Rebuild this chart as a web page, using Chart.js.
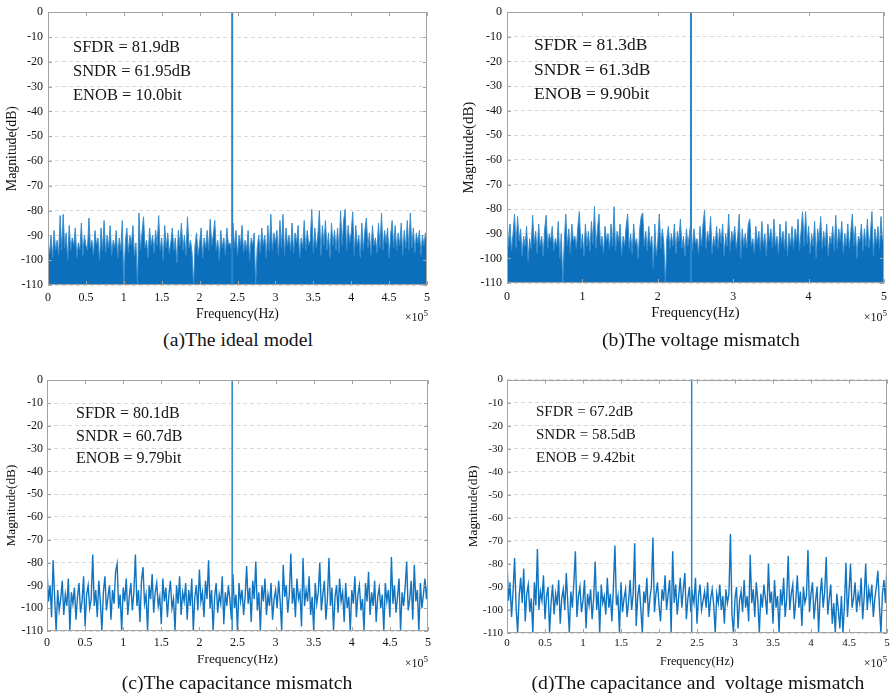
<!DOCTYPE html>
<html>
<head>
<meta charset="utf-8">
<title>FFT spectra of the SAR ADC models</title>
<script src="https://cdn.jsdelivr.net/npm/chart.js"></script>
<style>
    body { margin: 0; width: 894px; height: 697px; background: #fff; position: relative; overflow: hidden;
           font-family: "Liberation Serif", "Times New Roman", serif; color: #141414; }
    canvas { position: absolute; }
    .note { position: absolute; white-space: nowrap; }
    .cap { position: absolute; font-size: 19.7px; white-space: pre; transform: translate(-50%, -50%); line-height: 1; }
    .exp { position: absolute; font-size: 12px; line-height: 16px; white-space: nowrap; }
    .exp sup { font-size: 9px; vertical-align: 5px; line-height: 0; }
</style>
</head>
<body>

<canvas id="chartA" width="436" height="327" style="left:0px;top:0px"></canvas>
<canvas id="chartB" width="447" height="326" style="left:447px;top:0px"></canvas>
<canvas id="chartC" width="436" height="303" style="left:0px;top:369px"></canvas>
<canvas id="chartD" width="447" height="304" style="left:447px;top:369px"></canvas>

<!-- 측정 결과 텍스트 -->
<div class="note" style="left:73px;top:35px;font-size:16.5px;line-height:24px">SFDR = 81.9dB<br>SNDR = 61.95dB<br>ENOB = 10.0bit</div>
<div class="note" style="left:534px;top:32px;font-size:17.5px;line-height:24.5px">SFDR = 81.3dB<br>SNDR = 61.3dB<br>ENOB = 9.90bit</div>
<div class="note" style="left:76px;top:402px;font-size:16px;line-height:22.5px">SFDR = 80.1dB<br>SNDR = 60.7dB<br>ENOB = 9.79bit</div>
<div class="note" style="left:536px;top:400px;font-size:15px;line-height:23px">SFDR = 67.2dB<br>SNDR = 58.5dB<br>ENOB = 9.42bit</div>

<div class="exp" style="right:466px;top:309px">×10<sup>5</sup></div>
<div class="exp" style="right:7px;top:309px">×10<sup>5</sup></div>
<div class="exp" style="right:466px;top:655px">×10<sup>5</sup></div>
<div class="exp" style="right:7px;top:655px">×10<sup>5</sup></div>

<div class="cap" style="left:238px;top:340px">(a)The ideal model</div>
<div class="cap" style="left:701px;top:340px">(b)The voltage mismatch</div>
<div class="cap" style="left:237px;top:683px">(c)The capacitance mismatch</div>
<div class="cap" style="left:698px;top:683px">(d)The capacitance and  voltage mismatch</div>

<script>
    // 주파수 빈 간격 (0 ~ 5x10^5 Hz, 251 bins)
    const freqBinHz = 2000;
    const floorDb = -110;

    // 입력 신호 톤 (각 그래프)
    const toneFreqHz = [2.43e5, 2.44e5, 2.43e5, 2.43e5];
    const toneDb = [0, 0, 0, 0];

    // (a) ideal model
    const ampIdeal = [
        -94, -97, -90, -99, -88, -96, -92, -98, -82, -96,
        -81.5, -95, -89, -100, -86, -96, -91, -94, -87, -99,
        -93, -96, -85, -98, -90, -94, -96, -83, -95, -92,
        -98, -88, -94, -91, -100, -87, -96, -84, -97, -90,
        -95, -86, -98, -92, -95, -88, -99, -91, -96, -84,
        -110, -93, -87, -97, -90, -94, -86, -98, -93, -110,
        -81, -96, -89, -82.5, -95, -92, -99, -87, -94, -90,
        -97, -88, -94, -82, -96, -91, -100, -86, -95, -89,
        -97, -93, -87, -96, -91, -101, -88, -94, -85, -96,
        -90, -98, -82.5, -95, -92, -97, -110, -94, -89, -98,
        -93, -87, -99, -91, -95, -88, -96, -83.5, -94, -90,
        -84, -96, -92, -100, -88, -95, -91, -98, -87, -94,
        -93, -96, -85, -95, -88, -98, -90, -94, -86, -97,
        -92, -96, -88, -100, -91, -94, -89, -110, -95, -90,
        -97, -87, -94, -90, -99, -86, -96, -81.5, -96, -89,
        -93, -88, -98, -84, -95, -81.5, -98, -87, -94, -90,
        -96, -85, -97, -89, -93, -86, -99, -91, -95, -84,
        -96, -88, -94, -92, -79.5, -97, -87, -95, -90, -80,
        -98, -86, -94, -84, -96, -89, -99, -85, -94, -88,
        -96, -87, -97, -80, -94, -84, -79.5, -96, -86, -93,
        -89, -80.5, -98, -86, -94, -90, -99, -85, -96, -88,
        -83, -95, -89, -98, -86, -94, -91, -97, -85, -95,
        -81, -96, -88, -93, -87, -99, -90, -84, -95, -86,
        -96, -89, -94, -85, -98, -88, -95, -84, -96, -81,
        -95, -87, -97, -89, -93, -88, -98, -90, -94, -89,
        -92
    ];

    // (b) voltage mismatch
    const ampVoltage = [
        -82.5, -95, -86, -97, -90, -82, -96, -83, -93, -88,
        -99, -91, -95, -87, -101, -92, -96, -82.5, -94, -89,
        -98, -86, -95, -91, -99, -88, -82.5, -96, -90, -93,
        -87, -97, -92, -95, -85, -100, -90, -110, -93, -82,
        -95, -88, -98, -86, -93, -91, -96, -87, -81, -96,
        -90, -99, -86, -95, -89, -97, -85, -94, -79, -96,
        -88, -82, -95, -91, -98, -87, -93, -90, -96, -86,
        -95, -79, -97, -89, -93, -86, -99, -91, -95, -87,
        -82, -96, -90, -98, -86, -94, -92, -100, -88, -83,
        -81.5, -95, -89, -97, -87, -95, -91, -104, -86, -99,
        -93, -82, -96, -88, -94, -110, -92, -87, -96, -90,
        -95, -86, -98, -89, -93, -84, -96, -91, -99, -88,
        -95, -90, -85, -97, -88, -94, -92, -98, -87, -95,
        -86, -80.5, -96, -89, -93, -83, -98, -91, -95, -87,
        -96, -88, -94, -86, -99, -90, -95, -82, -97, -89,
        -93, -87, -96, -91, -82, -100, -88, -95, -90, -96,
        -86, -84, -95, -92, -98, -87, -94, -89, -97, -85,
        -95, -90, -99, -86, -93, -88, -96, -84, -95, -91,
        -98, -86, -94, -89, -96, -85, -99, -90, -95, -87,
        -96, -88, -93, -84, -97, -89, -81, -95, -81, -94,
        -87, -98, -90, -95, -85, -100, -88, -93, -83, -96,
        -89, -95, -86, -99, -91, -94, -87, -97, -82.5, -96,
        -88, -93, -85, -98, -90, -95, -86, -96, -89, -82,
        -95, -87, -100, -91, -93, -86, -97, -88, -95, -84,
        -96, -90, -81, -99, -88, -94, -87, -96, -83, -93,
        -91
    ];

    // (c) capacitance mismatch
    const ampCap = [
        -83, -97, -90, -104, -79, -95, -110, -92, -101, -96,
        -88, -103, -94, -99, -87, -110, -93, -98, -91, -105,
        -95, -89, -102, -97, -86, -108, -94, -90, -100, -96,
        -76.5, -99, -92, -104, -88, -97, -110, -93, -86, -101,
        -95, -90, -105, -92, -98, -84, -80.5, -100, -94, -110,
        -91, -97, -87, -103, -95, -89, -101, -93, -76.5, -99,
        -92, -106, -88, -82, -98, -94, -110, -90, -96, -85,
        -102, -93, -89, -99, -95, -107, -87, -97, -91, -104,
        -94, -88, -100, -96, -110, -90, -98, -86, -103, -93,
        -97, -89, -105, -92, -99, -87, -110, -95, -90, -101,
        -83, -97, -93, -104, -88, -96, -79, -100, -92, -110,
        -95, -89, -102, -94, -98, -86, -107, -93, -99, -90,
        -96, -105, -85, -100, -94, -110, -89, -97, -92, -103,
        -95, -81.5, -98, -91, -106, -88, -96, -79.5, -101, -93,
        -110, -90, -97, -87, -103, -94, -99, -89, -105, -96,
        -92, -100, -88, -97, -110, -81, -95, -90, -102, -94,
        -76, -98, -91, -104, -87, -96, -93, -108, -78, -99,
        -92, -97, -86, -103, -95, -110, -89, -98, -93, -80,
        -101, -94, -88, -105, -96, -78, -99, -91, -110, -95,
        -90, -102, -87, -97, -93, -106, -89, -100, -95, -110,
        -92, -98, -86, -104, -94, -90, -101, -96, -110, -89,
        -97, -84, -103, -93, -99, -88, -106, -95, -91, -100,
        -94, -110, -89, -97, -92, -104, -77.5, -98, -90, -102,
        -95, -87, -110, -93, -99, -91, -79.5, -101, -96, -88,
        -105, -81, -97, -92, -110, -89, -100, -94, -87, -96,
        -88
    ];

    // (d) capacitance and voltage mismatch
    const ampCapVolt = [
        -79, -96, -88, -103, -92, -77.5, -99, -110, -94, -86,
        -97, -82, -105, -93, -89, -101, -95, -110, -88, -98,
        -73.5, -100, -92, -96, -85, -104, -94, -90, -110, -97,
        -89, -102, -93, -98, -87, -106, -95, -91, -100, -84,
        -97, -110, -92, -99, -88, -74.5, -103, -94, -90, -101,
        -96, -87, -108, -93, -98, -91, -104, -95, -79, -100,
        -92, -110, -89, -97, -94, -102, -86, -99, -93, -105,
        -90, -72, -98, -94, -110, -88, -101, -95, -91, -103,
        -96, -87, -100, -93, -71, -107, -94, -89, -99, -110,
        -92, -97, -86, -103, -95, -90, -68.5, -101, -93, -88,
        -98, -105, -91, -96, -85, -100, -93, -87, -110, -74.5,
        -97, -89, -102, -94, -86, -99, -91, -84, -104, -95,
        -90, -101, -93, -97, -86, -106, -94, -89, -100, -96,
        -92, -99, -88, -103, -95, -91, -98, -110, -93, -97,
        -89, -100, -94, -106, -91, -97, -93, -67, -102, -110,
        -95, -90, -108, -96, -92, -101, -87, -99, -94, -105,
        -76, -97, -91, -103, -88, -96, -110, -93, -99, -89,
        -95, -102, -80, -97, -92, -106, -87, -99, -94, -110,
        -91, -98, -86, -103, -95, -76.5, -100, -93, -89, -104,
        -96, -85, -99, -92, -107, -90, -97, -94, -74, -101,
        -93, -88, -104, -96, -90, -110, -94, -86, -99, -92,
        -77, -102, -95, -89, -106, -97, -110, -93, -100, -108,
        -94, -110, -98, -79.5, -103, -92, -80, -99, -95, -88,
        -101, -93, -97, -86, -104, -94, -80, -100, -91, -96,
        -89, -103, -95, -90, -83, -98, -110, -93, -87, -97,
        -80
    ];

    const serif = '"Liberation Serif", "Times New Roman", serif';
    const ink = '#111';
    const boxColor = '#a3a3a3';
    const blue = '#0b6fbc';

    // 박스 테두리 + 안쪽 눈금
    const framePlugin = {
        id: 'frame',
        afterDatasetsDraw(chart) {
            const { ctx, chartArea: a, scales: { x, y } } = chart;
            ctx.save();
            ctx.strokeStyle = boxColor;
            ctx.lineWidth = 1;
            ctx.beginPath();
            x.ticks.forEach(t => {
                const px = Math.round(x.getPixelForValue(t.value)) + 0.5;
                ctx.moveTo(px, a.bottom); ctx.lineTo(px, a.bottom - 4);
                ctx.moveTo(px, a.top); ctx.lineTo(px, a.top + 4);
            });
            y.ticks.forEach(t => {
                const py = Math.round(y.getPixelForValue(t.value)) + 0.5;
                ctx.moveTo(a.left, py); ctx.lineTo(a.left + 4, py);
                ctx.moveTo(a.right, py); ctx.lineTo(a.right - 4, py);
            });
            ctx.stroke();
            ctx.strokeRect(Math.round(a.left) + 0.5, Math.round(a.top) + 0.5,
                Math.round(a.width) - 1, Math.round(a.height) - 1);
            ctx.restore();
        }
    };

    function spectrum(id, amp, k, cfg) {
        const noise = amp.map((v, i) => ({ x: i * freqBinHz, y: v }));
        const tone = [{ x: toneFreqHz[k], y: floorDb }, { x: toneFreqHz[k], y: toneDb[k] }];

        return new Chart(document.getElementById(id), {
            type: 'line',
            data: {
                datasets: [
                    {
                        label: 'tone',
                        data: tone,
                        borderColor: '#2a86c8',
                        borderWidth: cfg.filled ? 2 : 1.5,
                        pointRadius: 0,
                        fill: false
                    },
                    {
                        label: 'spectrum',
                        data: noise,
                        borderColor: cfg.filled ? '#3a8dcc' : '#1174c0',
                        backgroundColor: blue,
                        borderWidth: cfg.filled ? 1 : 1.4,
                        tension: 0,
                        pointRadius: 0,
                        fill: cfg.filled ? 'start' : false
                    }
                ]
            },
            options: {
                responsive: false,
                animation: false,
                devicePixelRatio: 1,
                layout: { padding: { top: cfg.padTop, right: cfg.padRight, left: 0, bottom: 0 } },
                plugins: { legend: { display: false }, tooltip: { enabled: false } },
                scales: {
                    x: {
                        type: 'linear',
                        min: 0,
                        max: 5e5,
                        grid: { display: false, drawTicks: false },
                        border: { display: false },
                        ticks: {
                            stepSize: cfg.xStep,
                            autoSkip: false,
                            maxRotation: 0,
                            padding: cfg.xPad,
                            color: ink,
                            font: { family: serif, size: cfg.tickSize },
                            callback: v => String(v / 1e5)
                        },
                        title: {
                            display: true,
                            text: 'Frequency(Hz)',
                            color: ink,
                            font: { family: serif, size: cfg.xTitleSize },
                            padding: { top: 0, bottom: 4 }
                        },
                        afterFit: s => { s.height = cfg.xH; }
                    },
                    y: {
                        min: floorDb,
                        max: 0,
                        grid: { color: '#d9d9d9', drawTicks: false },
                        border: { display: false, dash: [4, 3] },
                        ticks: {
                            stepSize: 10,
                            padding: cfg.yPad,
                            color: ink,
                            font: { family: serif, size: cfg.tickSize },
                            callback: v => String(v)
                        },
                        title: {
                            display: true,
                            text: 'Magnitude(dB)',
                            color: ink,
                            font: { family: serif, size: cfg.yTitleSize },
                            padding: { top: cfg.yTitlePad, bottom: 0 }
                        },
                        afterFit: s => { s.width = cfg.yW; }
                    }
                }
            },
            plugins: [framePlugin]
        });
    }

    spectrum('chartA', ampIdeal, 0, {
        filled: true, padTop: 9, padRight: 8, xH: 42, yW: 48, xStep: 5e4,
        xPad: 6, yPad: 5, tickSize: 12, xTitleSize: 13.7, yTitleSize: 13.8, yTitlePad: 4
    });
    spectrum('chartB', ampVoltage, 1, {
        filled: true, padTop: 10, padRight: 7, xH: 43, yW: 60, xStep: 1e5,
        xPad: 7, yPad: 5, tickSize: 12, xTitleSize: 14.6, yTitleSize: 14.9, yTitlePad: 13
    });
    spectrum('chartC', ampCap, 2, {
        filled: false, padTop: 9, padRight: 8, xH: 41, yW: 47, xStep: 5e4,
        xPad: 5, yPad: 4, tickSize: 12, xTitleSize: 13.4, yTitleSize: 13.3, yTitlePad: 4
    });
    spectrum('chartD', ampCapVolt, 3, {
        filled: false, padTop: 9, padRight: 7, xH: 40, yW: 60, xStep: 5e4,
        xPad: 4, yPad: 4, tickSize: 11, xTitleSize: 12.2, yTitleSize: 13.3, yTitlePad: 19
    });
</script>
</body>
</html>
